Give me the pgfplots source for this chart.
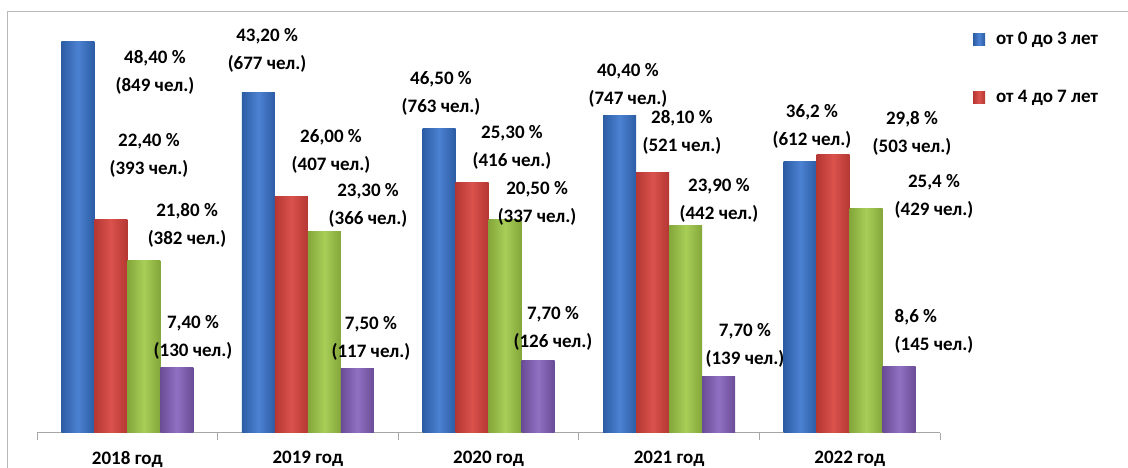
\documentclass[border=0pt]{standalone}
\usepackage{fontspec}
\setmainfont{Carlito}
\usepackage{pgfplots}
\pgfplotsset{compat=1.18}
\definecolor{bD}{HTML}{2C5CA4}\definecolor{bL}{HTML}{4C82D2}
\definecolor{rD}{HTML}{B53733}\definecolor{rL}{HTML}{DA524C}
\definecolor{gD}{HTML}{84A63A}\definecolor{gL}{HTML}{A8CE58}
\definecolor{pD}{HTML}{6A4C96}\definecolor{pL}{HTML}{9070C2}
\newcommand\lbl{\bfseries\fontsize{19}{28}\selectfont}
\pgfplotsset{
  B/.style={ybar, bar width=33pt, bar shift=-49.5pt, draw=none, left color=bD, right color=bD, middle color=bL},
  R/.style={ybar, bar width=33pt, bar shift=-16.5pt, draw=none, left color=rD, right color=rD, middle color=rL},
  G/.style={ybar, bar width=33pt, bar shift=16.5pt, draw=none, left color=gD, right color=gD, middle color=gL},
  P/.style={ybar, bar width=33pt, bar shift=49.5pt, draw=none, left color=pD, right color=pD, middle color=pL},
}
\begin{document}
\begin{tikzpicture}[x=1pt,y=1pt]
\path[use as bounding box] (0,0) rectangle (1128,468);
\draw[gray!55, line width=1pt] (7,0) -- (7,456) -- (1128,456);
\begin{axis}[
  at={(37pt,35pt)}, anchor=south west,
  width=903pt, height=421pt, scale only axis,
  xmin=0, xmax=5, ymin=0, ymax=421,
  axis y line=none, axis x line*=bottom,
  x axis line style={gray!70, line width=1pt},
  xtick={0.5,1.5,2.5,3.5,4.5},
  xticklabels={2018 год,2019 год,2020 год,2021 год,2022 год},
  major tick length=0pt,
  minor xtick={0,1,2,3,4,5}, minor tick length=7pt,
  tick align=outside, tick style={gray!70, line width=1pt},
  xticklabel style={font=\bfseries\fontsize{19}{22}\selectfont, yshift=-18pt},
  clip=false,
  legend style={at={(rel axis cs:1.033,0.962)}, anchor=north west, draw=none,
    fill=none, font=\fontsize{19}{22}\selectfont, row sep=40pt, column sep=9pt,
    cells={anchor=west}},
  legend image code/.code={\path[#1,draw=none] (0pt,-6pt) rectangle (12pt,6pt);},
]
% bar heights as drawn (px above the baseline)
\addplot[B] coordinates {(0.5,391)};
\addplot[R] coordinates {(0.5,213)};
\addplot[G, forget plot] coordinates {(0.5,172)};
\addplot[P, forget plot] coordinates {(0.5,65)};
\addplot[B, forget plot] coordinates {(1.5,340)};
\addplot[R, forget plot] coordinates {(1.5,236)};
\addplot[G, forget plot] coordinates {(1.5,201)};
\addplot[P, forget plot] coordinates {(1.5,64)};
\addplot[B, forget plot] coordinates {(2.5,304)};
\addplot[R, forget plot] coordinates {(2.5,250)};
\addplot[G, forget plot] coordinates {(2.5,213)};
\addplot[P, forget plot] coordinates {(2.5,72)};
\addplot[B, forget plot] coordinates {(3.5,317)};
\addplot[R, forget plot] coordinates {(3.5,260)};
\addplot[G, forget plot] coordinates {(3.5,207)};
\addplot[P, forget plot] coordinates {(3.5,56)};
\addplot[B, forget plot] coordinates {(4.5,271)};
\addplot[R, forget plot] coordinates {(4.5,278)};
\addplot[G, forget plot] coordinates {(4.5,224)};
\addplot[P, forget plot] coordinates {(4.5,66)};
\legend{от 0 до 3 лет, от 4 до 7 лет}
\tikzset{every node/.style={align=center, font=\lbl, inner sep=0pt}}
\node at (axis cs:0.653,361) {48,40 \%\\(849 чел.)};
\node at (axis cs:0.620,278) {22,40 \%\\(393 чел.)};
\node at (axis cs:0.831,208) {21,80 \%\\(382 чел.)};
\node at (axis cs:0.864,96) {7,40 \%\\(130 чел.)};
\node at (axis cs:1.274,383) {43,20 \%\\(677 чел.)};
\node at (axis cs:1.628,282) {26,00 \%\\(407 чел.)};
\node at (axis cs:1.833,228) {23,30 \%\\(366 чел.)};
\node at (axis cs:1.849,95) {7,50 \%\\(117 чел.)};
\node at (axis cs:2.237,340) {46,50 \%\\(763 чел.)};
\node at (axis cs:2.630,286) {25,30 \%\\(416 чел.)};
\node at (axis cs:2.769,230) {20,50 \%\\(337 чел.)};
\node at (axis cs:2.857,105) {7,70 \%\\(126 чел.)};
\node at (axis cs:3.272,348) {40,40 \%\\(747 чел.)};
\node at (axis cs:3.571,301) {28,10 \%\\(521 чел.)};
\node at (axis cs:3.776,233) {23,90 \%\\(442 чел.)};
\node at (axis cs:3.920,88) {7,70 \%\\(139 чел.)};
\node at (axis cs:4.291,307) {36,2 \%\\(612 чел.)};
\node at (axis cs:4.845,300) {29,8 \%\\(503 чел.)};
\node at (axis cs:4.967,237) {25,4 \%\\(429 чел.)};
\node[align=left] at (axis cs:4.967,102) {8,6 \%\\(145 чел.)};
\end{axis}
\end{tikzpicture}
\end{document}
